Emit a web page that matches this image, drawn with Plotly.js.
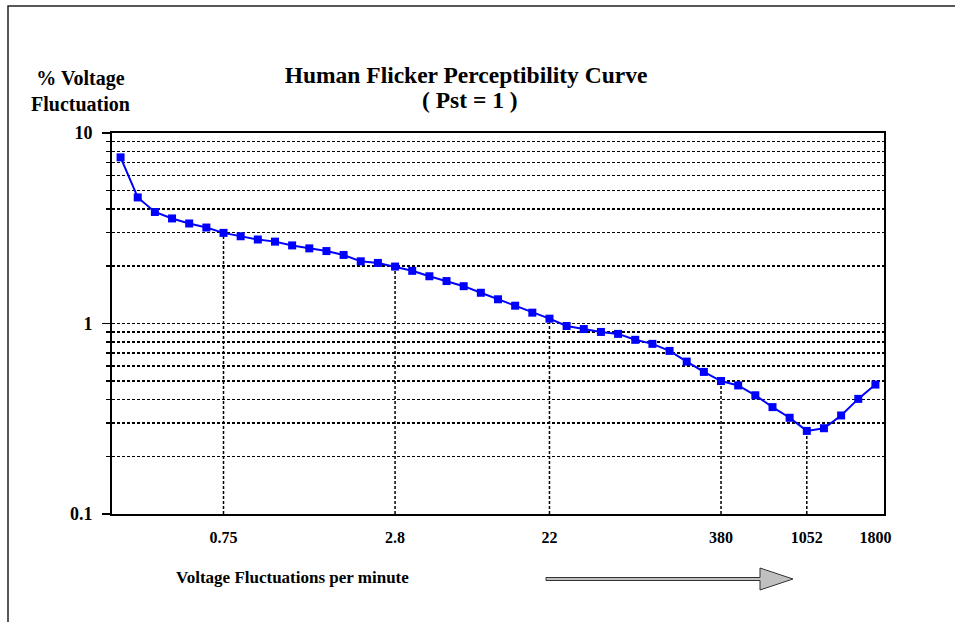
<!DOCTYPE html>
<html><head><meta charset="utf-8">
<script src="https://cdn.plot.ly/plotly-3.0.1.min.js"></script>
<style>html,body{margin:0;padding:0;background:#fff}</style>
</head><body><div id="chart" style="width:955px;height:622px"></div>
<script>
// Data (x = point sequence index along the category axis, y = % voltage fluctuation)
const pointIndex = [0,1,2,3,4,5,6,7,8,9,10,11,12,13,14,15,16,17,18,19,20,21,22,23,24,25,26,27,28,29,30,31,32,33,34,35,36,37,38,39,40,41,42,43,44];
const pctVoltage = [7.45,4.59,3.85,3.56,3.35,3.19,2.99,2.87,2.76,2.69,2.57,2.48,2.40,2.29,2.12,2.08,1.99,1.89,1.77,1.67,1.57,1.45,1.34,1.24,1.14,1.06,0.97,0.935,0.903,0.882,0.821,0.782,0.718,0.631,0.557,0.499,0.473,0.42,0.364,0.32,0.273,0.282,0.329,0.402,0.478];
const tickIndex = [6,16,25,35,40,44];
const tickLabels = ['0.75','2.8','22','380','1052','1800'];
const guideIndex = [6,16,25,35,40];
const yMajor = [0.1,1,10];
const yMajorLabels = ['0.1','1','10'];
const yMinor = [0.2,0.3,0.4,0.5,0.6,0.7,0.8,0.9,2,3,4,5,6,7,8,9];

const FONT = 'Liberation Serif, Times New Roman, serif';
const W = 955, H = 622, L = 112, R = 884, T = 133, B = 514;
const px = x => (x - L) / (R - L);
const py = y => (B - y) / (B - T);

// dotted guide lines from the axis up to the curve
const gx = [], gy = [];
guideIndex.forEach(i => { gx.push(i, i, null); gy.push(yMajor[0], pctVoltage[i], null); });

const traces = [
  {x: gx, y: gy, mode: 'lines', line: {color: '#000', width: 1.5, dash: '3px,2px'}, hoverinfo: 'skip', showlegend: false},
  {x: pointIndex, y: pctVoltage, mode: 'lines+markers',
   line: {color: '#0000FF', width: 2},
   marker: {symbol: 'square', size: 8, color: '#0000FF'},
   showlegend: false}
];

const arrowPts = [[546,577.5],[760,577.5],[760,568],[793,579],[760,590],[760,580.5],[546,580.5]];
const arrowPath = 'M' + arrowPts.map(p => px(p[0]) + ',' + py(p[1])).join(' L') + ' Z';

const layout = {
  width: W, height: H,
  margin: {l: L, r: W - R, t: T, b: H - B, pad: 0},
  paper_bgcolor: '#fff', plot_bgcolor: '#fff',
  font: {family: FONT, color: '#000', weight: 700},
  showlegend: false,
  title: {text: 'Human Flicker Perceptibility Curve', font: {family: FONT, size: 23.5, color: '#000', weight: 700},
          x: 466 / W, xref: 'container', xanchor: 'center', y: 1 - 75 / H, yref: 'container', yanchor: 'middle'},
  xaxis: {range: [-0.5, 44.5], tickmode: 'array', tickvals: tickIndex, ticktext: tickLabels,
          ticks: '', showgrid: false, zeroline: false, showline: true, linecolor: '#000', linewidth: 2, mirror: true,
          tickfont: {family: FONT, size: 16, color: '#000', weight: 700}, ticklabelstandoff: 8},
  yaxis: {type: 'log', range: [-1, 1], tickmode: 'array', tickvals: yMajor, ticktext: yMajorLabels,
          ticks: 'outside', ticklen: 8, tickwidth: 1.5, tickcolor: '#000',
          showgrid: true, gridcolor: '#000', gridwidth: 1.5, griddash: '3px,2px',
          minor: {tickmode: 'array', tickvals: yMinor, ticks: 'outside', ticklen: 4, tickwidth: 1.5, tickcolor: '#000',
                  showgrid: true, gridcolor: '#000', gridwidth: 1.5, griddash: '3px,2px'},
          zeroline: false, showline: true, linecolor: '#000', linewidth: 2, mirror: true,
          tickfont: {family: FONT, size: 18, color: '#000', weight: 700}, ticklabelstandoff: 6},
  annotations: [
    {text: '( Pst = 1 )', xref: 'paper', yref: 'paper', x: px(470), y: py(100), xanchor: 'center', yanchor: 'middle',
     showarrow: false, font: {family: FONT, size: 23.5, color: '#000', weight: 700}},
    {text: '% Voltage<br>Fluctuation', xref: 'paper', yref: 'paper', x: px(80), y: py(91), xanchor: 'center', yanchor: 'middle',
     showarrow: false, font: {family: FONT, size: 20, color: '#000', weight: 700}},
    {text: 'Voltage Fluctuations per minute', xref: 'paper', yref: 'paper', x: px(292), y: py(577), xanchor: 'center', yanchor: 'middle',
     showarrow: false, font: {family: FONT, size: 17, color: '#000', weight: 700}}
  ],
  shapes: [
    {type: 'rect', xref: 'paper', yref: 'paper', x0: px(8), y0: py(6), x1: px(990), y1: py(660),
     line: {color: '#222', width: 1.5}, fillcolor: 'rgba(0,0,0,0)', layer: 'below'},
    {type: 'path', xref: 'paper', yref: 'paper', path: arrowPath, fillcolor: '#C0C0C0', line: {color: '#333', width: 1}}
  ]
};

Plotly.newPlot('chart', traces, layout, {displayModeBar: false, staticPlot: true});
</script></body></html>
